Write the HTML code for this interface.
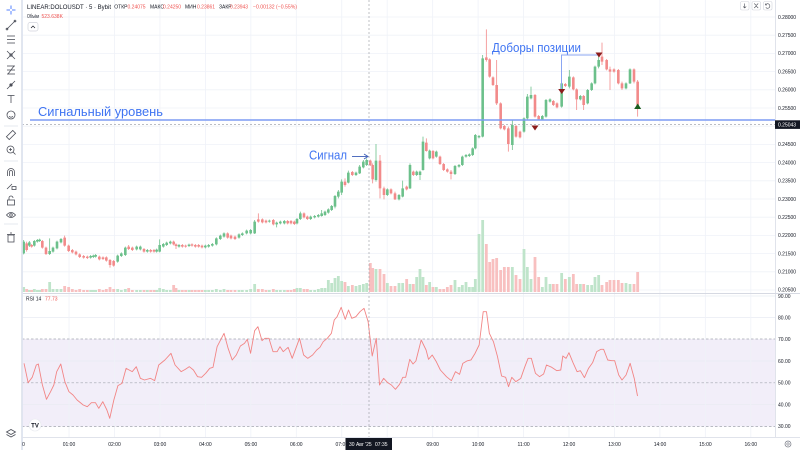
<!DOCTYPE html>
<html><head><meta charset="utf-8">
<style>
html,body{margin:0;padding:0;background:#fff;width:800px;height:450px;overflow:hidden}
svg{display:block;font-family:"Liberation Sans","Noto Sans CJK SC",sans-serif}
.wg{stroke:#6cc08b;stroke-width:2.4;fill:none}
.wr{stroke:#f28a8a;stroke-width:2.4;fill:none}
.bg{fill:#6cc08b}.br{fill:#f28a8a}
.vg{fill:#bfe4ca}.vr{fill:#f8c0c0}
</style></head>
<body>
<svg width="800" height="450" viewBox="0 0 800 450" xmlns="http://www.w3.org/2000/svg">
<rect width="800" height="450" fill="#fff"/>
<!-- RSI band -->
<rect x="22" y="339" width="753" height="87.5" fill="#f2eef9"/>
<!-- grid -->
<path d="M22 17H775M22 35.2H775M22 53.4H775M22 71.6H775M22 89.8H775M22 108H775M22 126.2H775M22 144.4H775M22 162.6H775M22 180.8H775M22 199H775M22 217.2H775M22 235.4H775M22 253.6H775M22 271.8H775M22 290H775" stroke="#eff2f8" stroke-width="0.8" fill="none"/>
<path d="M22 296H775M22 317.6H775M22 361H775M22 404.6H775" stroke="#e9ebf3" stroke-width="0.8" fill="none"/>
<path d="M69.05 0V437M114.5 0V437M159.95 0V437M205.4 0V437M250.85 0V437M296.3 0V437M341.75 0V437M387.2 0V437M432.65 0V437M478.1 0V437M523.55 0V437M569 0V437M614.45 0V437M659.9 0V437M705.35 0V437M750.8 0V437" stroke="#eff2f8" stroke-width="0.8" fill="none"/>
<!-- RSI dashed levels -->
<g stroke="#a3a6b0" stroke-width="0.7" stroke-dasharray="2.5,2">
<line x1="22" y1="339" x2="775" y2="339"/>
<line x1="22" y1="382.8" x2="775" y2="382.8"/>
<line x1="22" y1="426.5" x2="775" y2="426.5"/>
</g>

<!-- volumes -->
<g transform="translate(22,0) scale(0.33333,1)">
<path class="vg" d="M0.8 287h8.4v5h-8.4zM17.8 290h8.4v2h-8.4zM32.8 289h8.4v3h-8.4zM41.8 290h8.4v2h-8.4zM48.8 290h8.4v2h-8.4zM78.8 282h8.4v10h-8.4zM88.8 289h8.4v3h-8.4zM100.8 289h8.4v3h-8.4zM112.8 289h8.4v3h-8.4zM201.8 290h8.4v2h-8.4zM209.8 290h8.4v2h-8.4zM216.8 290h8.4v2h-8.4zM282.8 289h8.4v3h-8.4zM293.8 290h8.4v2h-8.4zM305.8 289h8.4v3h-8.4zM339.8 290h8.4v2h-8.4zM350.8 290h8.4v2h-8.4zM371.8 290h8.4v2h-8.4zM399.8 290h8.4v2h-8.4zM408.8 288h8.4v4h-8.4zM419.8 289h8.4v3h-8.4zM429.8 290h8.4v2h-8.4zM440.8 290h8.4v2h-8.4zM466.8 290h8.4v2h-8.4zM496.8 290h8.4v2h-8.4zM545.8 290h8.4v2h-8.4zM555.8 290h8.4v2h-8.4zM566.8 290h8.4v2h-8.4zM578.8 289h8.4v3h-8.4zM590.8 290h8.4v2h-8.4zM601.8 289h8.4v3h-8.4z"/>
<path class="vr" d="M9.8 289h8.4v3h-8.4zM24.8 290h8.4v2h-8.4zM56.8 289h8.4v3h-8.4zM67.8 289h8.4v3h-8.4zM123.8 286h8.4v6h-8.4zM135.8 287h8.4v5h-8.4zM146.8 289h8.4v3h-8.4zM157.8 290h8.4v2h-8.4zM168.8 289h8.4v3h-8.4zM180.8 290h8.4v2h-8.4zM191.8 290h8.4v2h-8.4zM227.8 289h8.4v3h-8.4zM238.8 290h8.4v2h-8.4zM248.8 289h8.4v3h-8.4zM259.8 287h8.4v5h-8.4zM270.8 289h8.4v3h-8.4zM315.8 288h8.4v4h-8.4zM326.8 290h8.4v2h-8.4zM361.8 290h8.4v2h-8.4zM381.8 290h8.4v2h-8.4zM391.8 290h8.4v2h-8.4zM450.8 285h8.4v7h-8.4zM457.8 288h8.4v4h-8.4zM476.8 290h8.4v2h-8.4zM486.8 290h8.4v2h-8.4zM505.8 290h8.4v2h-8.4zM515.8 290h8.4v2h-8.4zM525.8 290h8.4v2h-8.4zM535.8 290h8.4v2h-8.4zM612.8 290h8.4v2h-8.4zM622.8 290h8.4v2h-8.4z"/>
</g>
<g transform="translate(220,0) scale(0.33333,1)">
<path class="vg" d="M52.8 290h8.4v2h-8.4zM62.8 290h8.4v2h-8.4zM75.8 290h8.4v2h-8.4zM87.8 289h8.4v3h-8.4zM99.8 284h8.4v8h-8.4zM143.8 290h8.4v2h-8.4zM165.8 290h8.4v2h-8.4zM176.8 290h8.4v2h-8.4zM188.8 290h8.4v2h-8.4zM226.8 288h8.4v4h-8.4zM236.8 288h8.4v4h-8.4zM267.8 290h8.4v2h-8.4zM279.8 290h8.4v2h-8.4zM290.8 289h8.4v3h-8.4zM300.8 288h8.4v4h-8.4zM310.8 288h8.4v4h-8.4zM320.8 280h8.4v12h-8.4zM330.8 283h8.4v9h-8.4zM340.8 278h8.4v14h-8.4zM350.8 276h8.4v16h-8.4zM360.8 281h8.4v11h-8.4zM380.8 286h8.4v6h-8.4zM403.8 286h8.4v6h-8.4zM414.8 285h8.4v7h-8.4zM425.8 284h8.4v8h-8.4zM435.8 283h8.4v9h-8.4zM463.8 269h8.4v23h-8.4zM497.8 283h8.4v9h-8.4zM532.8 283h8.4v9h-8.4zM543.8 283h8.4v9h-8.4z"/>
<path class="vr" d="M40.8 290h8.4v2h-8.4zM110.8 289h8.4v3h-8.4zM122.8 289h8.4v3h-8.4zM133.8 290h8.4v2h-8.4zM155.8 289h8.4v3h-8.4zM198.8 290h8.4v2h-8.4zM208.8 290h8.4v2h-8.4zM218.8 289h8.4v3h-8.4zM247.8 289h8.4v3h-8.4zM257.8 289h8.4v3h-8.4zM370.8 282h8.4v10h-8.4zM392.8 285h8.4v7h-8.4zM446.8 263h8.4v29h-8.4zM453.8 268h8.4v24h-8.4zM475.8 269h8.4v23h-8.4zM487.8 274h8.4v18h-8.4zM508.8 286h8.4v6h-8.4zM520.8 286h8.4v6h-8.4zM555.8 279h8.4v13h-8.4z"/>
</g>
<g transform="translate(410,0) scale(0.33333,1)">
<path class="vg" d="M-4.2 284h8.4v8h-8.4zM15.8 277h8.4v15h-8.4zM25.8 269h8.4v23h-8.4zM34.8 277h8.4v15h-8.4zM54.8 282h8.4v10h-8.4zM74.8 287h8.4v5h-8.4zM130.8 280h8.4v12h-8.4zM142.8 287h8.4v5h-8.4zM152.8 285h8.4v7h-8.4zM163.8 282h8.4v10h-8.4zM173.8 287h8.4v5h-8.4zM183.8 287h8.4v5h-8.4zM191.8 279h8.4v13h-8.4zM202.8 234h8.4v58h-8.4zM213.8 220h8.4v72h-8.4zM302.8 267h8.4v25h-8.4zM337.8 249h8.4v43h-8.4zM347.8 267h8.4v25h-8.4zM358.8 279h8.4v13h-8.4zM392.8 287h8.4v5h-8.4zM403.8 277h8.4v15h-8.4zM415.8 284h8.4v8h-8.4zM450.8 273h8.4v19h-8.4zM473.8 277h8.4v15h-8.4zM506.8 284h8.4v8h-8.4zM528.8 285h8.4v7h-8.4zM540.8 285h8.4v7h-8.4zM550.8 277h8.4v15h-8.4zM561.8 275h8.4v17h-8.4zM643.8 283h8.4v9h-8.4zM655.8 284h8.4v8h-8.4z"/>
<path class="vr" d="M5.8 284h8.4v8h-8.4zM44.8 285h8.4v7h-8.4zM64.8 287h8.4v5h-8.4zM85.8 289h8.4v3h-8.4zM96.8 289h8.4v3h-8.4zM107.8 287h8.4v5h-8.4zM118.8 285h8.4v7h-8.4zM224.8 244h8.4v48h-8.4zM234.8 262h8.4v30h-8.4zM244.8 259h8.4v33h-8.4zM255.8 258h8.4v34h-8.4zM267.8 270h8.4v22h-8.4zM278.8 267h8.4v25h-8.4zM290.8 267h8.4v25h-8.4zM313.8 275h8.4v17h-8.4zM325.8 279h8.4v13h-8.4zM370.8 257h8.4v35h-8.4zM381.8 277h8.4v15h-8.4zM425.8 284h8.4v8h-8.4zM436.8 284h8.4v8h-8.4zM461.8 279h8.4v13h-8.4zM485.8 274h8.4v18h-8.4zM495.8 284h8.4v8h-8.4zM516.8 284h8.4v8h-8.4zM571.8 285h8.4v7h-8.4zM585.8 282h8.4v10h-8.4zM595.8 280h8.4v12h-8.4zM607.8 280h8.4v12h-8.4zM620.8 280h8.4v12h-8.4zM631.8 283h8.4v9h-8.4zM667.8 284h8.4v8h-8.4zM678.8 272h8.4v20h-8.4z"/>
</g>

<!-- candles set 1 -->
<g transform="translate(22,195) scale(0.33333)">
<path class="wg" d="M5 135V178M22 138V156M37 135V155M46 132V143M53 131V141M83 130V180M93 155V173M105 137V163M117 129V145M206 180V191M214 179V189M221 177V188M287 179V203M298 172V186M310 155V183M344 152V166M355 152V166M376 162V173M404 161V173M413 133V172M424 144V158M434 140V153M445 137V148M471 147V158M501 146V156M550 149V160M560 147V158M571 144V155M583 127V151M595 119V135M606 112V128"/>
<path class="wr" d="M14 140V170M29 147V158M61 135V161M72 155V180M128 122V155M140 149V171M151 162V175M162 167V181M173 175V189M185 180V191M196 182V192M232 182V196M243 184V195M253 184V200M264 192V218M275 195V215M320 150V165M331 155V168M366 159V173M386 162V173M396 162V173M455 137V151M462 145V162M481 147V158M491 149V158M510 145V155M520 147V158M530 147V158M540 149V160M617 112V131M627 119V133"/>
<path class="bg" d="M1.1 140h7.8v35h-7.8zM18.1 142h7.8v10h-7.8zM33.1 138h7.8v14h-7.8zM42.1 135h7.8v5h-7.8zM49.1 134h7.8v4h-7.8zM79.1 168h7.8v9h-7.8zM89.1 158h7.8v12h-7.8zM101.1 140h7.8v20h-7.8zM113.1 132h7.8v10h-7.8zM202.1 183h7.8v5h-7.8zM210.1 182h7.8v4h-7.8zM217.1 180h7.8v5h-7.8zM283.1 182h7.8v18h-7.8zM294.1 175h7.8v8h-7.8zM306.1 158h7.8v22h-7.8zM340.1 155h7.8v8h-7.8zM351.1 155h7.8v8h-7.8zM372.1 165h7.8v5h-7.8zM400.1 164h7.8v6h-7.8zM409.1 150h7.8v20h-7.8zM420.1 147h7.8v8h-7.8zM430.1 143h7.8v7h-7.8zM441.1 140h7.8v5h-7.8zM467.1 150h7.8v5h-7.8zM497.1 149h7.8v4h-7.8zM546.1 152h7.8v5h-7.8zM556.1 150h7.8v5h-7.8zM567.1 147h7.8v5h-7.8zM579.1 130h7.8v18h-7.8zM591.1 122h7.8v10h-7.8zM602.1 115h7.8v10h-7.8z"/>
<path class="br" d="M10.1 145h7.8v20h-7.8zM25.1 150h7.8v5h-7.8zM57.1 138h7.8v20h-7.8zM68.1 158h7.8v19h-7.8zM124.1 128h7.8v24h-7.8zM136.1 152h7.8v16h-7.8zM147.1 165h7.8v7h-7.8zM158.1 170h7.8v8h-7.8zM169.1 178h7.8v8h-7.8zM181.1 183h7.8v5h-7.8zM192.1 185h7.8v4h-7.8zM228.1 185h7.8v8h-7.8zM239.1 187h7.8v5h-7.8zM249.1 187h7.8v10h-7.8zM260.1 195h7.8v15h-7.8zM271.1 198h7.8v14h-7.8zM316.1 155h7.8v7h-7.8zM327.1 158h7.8v7h-7.8zM362.1 162h7.8v8h-7.8zM382.1 165h7.8v5h-7.8zM392.1 165h7.8v5h-7.8zM451.1 140h7.8v8h-7.8zM458.1 148h7.8v5h-7.8zM477.1 150h7.8v5h-7.8zM487.1 152h7.8v3h-7.8zM506.1 148h7.8v4h-7.8zM516.1 150h7.8v5h-7.8zM526.1 150h7.8v5h-7.8zM536.1 152h7.8v5h-7.8zM613.1 115h7.8v13h-7.8zM623.1 122h7.8v8h-7.8z"/>
</g>
<!-- candles set 2 -->
<g transform="translate(220,140) scale(0.33333)">
<path class="wg" d="M57 280V296M67 277V288M80 269V283M92 267V283M104 240V282M148 239V248M170 245V262M181 242V253M193 240V253M231 234V253M241 215V240M272 227V240M284 225V235M295 222V233M305 210V230M315 212V228M325 205V221M335 195V213M345 165V205M355 150V175M365 118V165M385 92V130M408 95V108M419 75V102M430 60V85M440 55V78M468 12V125M502 145V168M537 162V181M548 122V172"/>
<path class="wr" d="M45 287V300M115 220V248M127 235V250M138 239V250M160 237V256M203 240V253M213 240V253M223 242V255M252 217V235M262 227V240M375 115V140M397 93V108M451 59V78M458 70V130M480 45V175M492 140V178M513 145V163M525 155V180M560 137V151"/>
<path class="bg" d="M53.1 283h7.8v10h-7.8zM63.1 280h7.8v5h-7.8zM76.1 272h7.8v8h-7.8zM88.1 270h7.8v10h-7.8zM100.1 245h7.8v35h-7.8zM144.1 242h7.8v3h-7.8zM166.1 248h7.8v5h-7.8zM177.1 245h7.8v5h-7.8zM189.1 243h7.8v7h-7.8zM227.1 237h7.8v13h-7.8zM237.1 220h7.8v17h-7.8zM268.1 230h7.8v7h-7.8zM280.1 228h7.8v4h-7.8zM291.1 225h7.8v5h-7.8zM301.1 220h7.8v8h-7.8zM311.1 215h7.8v10h-7.8zM321.1 208h7.8v10h-7.8zM331.1 198h7.8v12h-7.8zM341.1 168h7.8v32h-7.8zM351.1 155h7.8v15h-7.8zM361.1 125h7.8v33h-7.8zM381.1 98h7.8v30h-7.8zM404.1 98h7.8v7h-7.8zM415.1 80h7.8v20h-7.8zM426.1 65h7.8v17h-7.8zM436.1 60h7.8v15h-7.8zM464.1 62h7.8v58h-7.8zM498.1 148h7.8v17h-7.8zM533.1 165h7.8v13h-7.8zM544.1 145h7.8v25h-7.8z"/>
<path class="br" d="M41.1 290h7.8v7h-7.8zM111.1 238h7.8v7h-7.8zM123.1 238h7.8v9h-7.8zM134.1 242h7.8v5h-7.8zM156.1 240h7.8v13h-7.8zM199.1 243h7.8v7h-7.8zM209.1 243h7.8v7h-7.8zM219.1 245h7.8v7h-7.8zM248.1 220h7.8v12h-7.8zM258.1 230h7.8v7h-7.8zM371.1 125h7.8v10h-7.8zM393.1 96h7.8v9h-7.8zM447.1 62h7.8v13h-7.8zM454.1 75h7.8v43h-7.8zM476.1 62h7.8v83h-7.8zM488.1 145h7.8v20h-7.8zM509.1 148h7.8v12h-7.8zM521.1 160h7.8v18h-7.8zM556.1 140h7.8v8h-7.8z"/>
</g>
<!-- candles set 3 -->
<g transform="translate(410,20) scale(0.33333)">
<path class="wg" d="M0 430V507M20 452V468M30 452V480M39 350V452M59 389V418M79 392V413M135 435V465M147 432V443M157 407V438M168 402V413M178 400V411M188 382V408M196 342V388M207 345V355M218 105V352M307 300V390M342 292V338M352 222V300M363 200V238M397 285V301M408 237V293M420 235V248M455 187V263M478 150V205M511 225V241M533 207V253M545 187V213M555 137V193M566 105V145M648 187V208M660 145V192"/>
<path class="wr" d="M10 452V468M49 355V395M69 390V418M90 407V435M101 429V453M112 445V458M123 450V478M229 28V125M239 115V173M249 169V198M260 120V255M272 247V328M283 315V331M295 320V395M318 315V353M330 332V355M375 222V293M386 285V301M430 240V258M441 247V265M466 189V201M490 169V211M500 205V270M521 225V270M576 68V135M590 117V151M600 140V210M612 145V158M625 147V193M636 185V210M672 145V190M683 180V290"/>
<path class="bg" d="M-3.9 435h7.8v70h-7.8zM16.1 455h7.8v10h-7.8zM26.1 455h7.8v10h-7.8zM35.1 365h7.8v85h-7.8zM55.1 392h7.8v23h-7.8zM75.1 395h7.8v15h-7.8zM131.1 438h7.8v24h-7.8zM143.1 435h7.8v5h-7.8zM153.1 410h7.8v25h-7.8zM164.1 405h7.8v5h-7.8zM174.1 403h7.8v5h-7.8zM184.1 385h7.8v20h-7.8zM192.1 345h7.8v40h-7.8zM203.1 348h7.8v4h-7.8zM214.1 115h7.8v235h-7.8zM303.1 315h7.8v60h-7.8zM338.1 295h7.8v40h-7.8zM348.1 230h7.8v65h-7.8zM359.1 225h7.8v10h-7.8zM393.1 288h7.8v10h-7.8zM404.1 240h7.8v50h-7.8zM416.1 238h7.8v7h-7.8zM451.1 190h7.8v70h-7.8zM474.1 170h7.8v30h-7.8zM507.1 228h7.8v10h-7.8zM529.1 210h7.8v40h-7.8zM541.1 190h7.8v20h-7.8zM551.1 140h7.8v50h-7.8zM562.1 120h7.8v20h-7.8zM644.1 190h7.8v15h-7.8zM656.1 148h7.8v42h-7.8z"/>
<path class="br" d="M6.1 455h7.8v10h-7.8zM45.1 368h7.8v25h-7.8zM65.1 393h7.8v22h-7.8zM86.1 410h7.8v22h-7.8zM97.1 432h7.8v18h-7.8zM108.1 448h7.8v7h-7.8zM119.1 455h7.8v7h-7.8zM225.1 112h7.8v8h-7.8zM235.1 118h7.8v52h-7.8zM245.1 172h7.8v23h-7.8zM256.1 195h7.8v55h-7.8zM268.1 250h7.8v75h-7.8zM279.1 318h7.8v10h-7.8zM291.1 325h7.8v47h-7.8zM314.1 318h7.8v32h-7.8zM326.1 335h7.8v17h-7.8zM371.1 225h7.8v65h-7.8zM382.1 288h7.8v10h-7.8zM426.1 243h7.8v12h-7.8zM437.1 250h7.8v12h-7.8zM462.1 192h7.8v6h-7.8zM486.1 172h7.8v36h-7.8zM496.1 208h7.8v30h-7.8zM517.1 228h7.8v27h-7.8zM572.1 110h7.8v15h-7.8zM586.1 120h7.8v28h-7.8zM596.1 148h7.8v7h-7.8zM608.1 148h7.8v7h-7.8zM621.1 150h7.8v40h-7.8zM632.1 190h7.8v15h-7.8zM668.1 148h7.8v37h-7.8zM679.1 185h7.8v73h-7.8z"/>
</g>

<!-- RSI line -->
<g transform="translate(22,290) scale(0.40816,0.33333)">
<polyline fill="none" stroke="#f28585" stroke-width="0.9" stroke-linejoin="round" vector-effect="non-scaling-stroke" points="5,220 15,278 25,262 35,225 40,222 50,285 60,328 70,305 78,285 85,245 95,222 105,275 115,305 125,315 135,330 150,345 160,350 170,338 180,338 188,355 198,335 208,360 215,385 225,330 235,287 245,280 255,235 270,245 280,230 290,265 300,270 315,265 325,272 335,225 350,210 365,190 375,225 390,245 400,238 410,230 420,240 430,260 440,262 450,250 460,235 468,232 478,170 495,130 505,175 515,210 525,195 535,168 545,160 552,148 560,190 570,122 578,110 588,152 595,145 605,145 615,185 625,185 632,170 640,185 652,172 662,205 680,145 690,195 700,205 712,195 722,180 730,172 738,155 748,145 758,130 765,90 772,80 782,52 792,88 800,60 808,85 818,80 828,65 838,55 848,95 858,198 868,145 876,285 886,265 896,278 905,285 915,298 925,283 933,262 940,262 950,208 958,222 965,213 978,150 990,180 996,208 1005,195 1015,215 1025,240 1040,260 1052,272 1062,245 1072,253 1080,220 1090,213 1100,210 1110,190 1120,165 1130,65 1138,65 1145,130 1155,155 1165,200 1175,258 1185,262 1192,290 1200,262 1210,275 1222,265 1232,230 1240,205 1248,205 1258,250 1268,260 1278,252 1285,225 1298,232 1310,242 1320,240 1325,198 1333,205 1340,188 1350,218 1360,245 1368,242 1378,263 1388,235 1398,218 1408,185 1418,178 1425,178 1435,210 1445,212 1452,212 1462,255 1470,270 1480,255 1490,220 1500,265 1508,318"/>
</g>

<!-- crosshair -->
<line x1="369" y1="0" x2="369" y2="437" stroke="#9598a1" stroke-width="0.6" stroke-dasharray="2,2"/>
<line x1="22" y1="124.6" x2="775" y2="124.6" stroke="#9598a1" stroke-width="0.6" stroke-dasharray="2,2"/>

<!-- signal level & annotations -->
<line x1="30" y1="120" x2="775" y2="120" stroke="#7d9cf3" stroke-width="1.6"/>
<text x="38" y="116" font-size="12.5" fill="#3f74f2" textLength="125" lengthAdjust="spacingAndGlyphs">Сигнальный уровень</text>
<text x="309" y="159.5" font-size="12.5" fill="#3f74f2" textLength="38" lengthAdjust="spacingAndGlyphs">Сигнал</text>
<line x1="352" y1="156.5" x2="367.5" y2="156.5" stroke="#3f5fb8" stroke-width="0.9"/>
<polyline points="364,154 368,156.5 364,159" fill="none" stroke="#3f5fb8" stroke-width="0.9"/>
<text x="492" y="52" font-size="12.5" fill="#3f74f2" textLength="89" lengthAdjust="spacingAndGlyphs">Доборы позиции</text>
<polyline points="561.5,91 561.5,55 599,55" fill="none" stroke="#8aa6f2" stroke-width="1"/>
<polygon points="531.5,125.5 538.5,125.5 535,130.5" fill="#8b1c1c"/>
<polygon points="558.2,89 565.2,89 561.7,94" fill="#8b1c1c"/>
<polygon points="595.5,52.5 602.5,52.5 599,57.5" fill="#8b1c1c"/>
<polygon points="634.2,109 641.2,109 637.7,103.5" fill="#1b5e20"/>

<!-- axes borders -->
<line x1="775.5" y1="0" x2="775.5" y2="437" stroke="#e0e3eb" stroke-width="1"/>
<line x1="22" y1="293.5" x2="800" y2="293.5" stroke="#d6d9e2" stroke-width="1"/>
<line x1="22" y1="437.5" x2="800" y2="437.5" stroke="#e0e3eb" stroke-width="1"/>
<line x1="22.2" y1="0" x2="22.2" y2="450" stroke="#dde3f0" stroke-width="1.4"/>

<!-- price axis labels -->
<g font-size="5" fill="#131722">
<text x="778" y="18.8">0.28000</text>
<text x="778" y="37">0.27500</text>
<text x="778" y="55.2">0.27000</text>
<text x="778" y="73.4">0.26500</text>
<text x="778" y="91.6">0.26000</text>
<text x="778" y="109.8">0.25500</text>
<text x="778" y="146.2">0.24500</text>
<text x="778" y="164.4">0.24000</text>
<text x="778" y="182.6">0.23500</text>
<text x="778" y="200.8">0.23000</text>
<text x="778" y="219">0.22500</text>
<text x="778" y="237.2">0.22000</text>
<text x="778" y="255.4">0.21500</text>
<text x="778" y="273.6">0.21000</text>
<text x="778" y="291.5">0.20500</text>
<text x="778" y="298">90.00</text>
<text x="778" y="319.5">80.00</text>
<text x="778" y="341">70.00</text>
<text x="778" y="362.8">60.00</text>
<text x="778" y="384.6">50.00</text>
<text x="778" y="406.4">40.00</text>
<text x="778" y="428.2">30.00</text>
</g>
<rect x="775" y="120.3" width="25" height="8.6" fill="#131722"/>
<text x="778" y="126.5" font-size="5" fill="#fff">0.25043</text>

<!-- time axis -->
<g font-size="5" fill="#131722" text-anchor="middle">
<text x="23.5" y="446">0</text>
<text x="69" y="446">01:00</text>
<text x="114.5" y="446">02:00</text>
<text x="160" y="446">03:00</text>
<text x="205.4" y="446">04:00</text>
<text x="250.9" y="446">05:00</text>
<text x="296.3" y="446">06:00</text>
<text x="341.8" y="446">07:00</text>
<text x="432.7" y="446">09:00</text>
<text x="478.1" y="446">10:00</text>
<text x="523.6" y="446">11:00</text>
<text x="569" y="446">12:00</text>
<text x="614.5" y="446">13:00</text>
<text x="660" y="446">14:00</text>
<text x="705.4" y="446">15:00</text>
<text x="750.8" y="446">16:00</text>
</g>
<rect x="345.5" y="438" width="46.5" height="12" fill="#131722"/>
<text x="349" y="446" font-size="5" fill="#fff">30 Авг '25</text>
<text x="375" y="446" font-size="5" fill="#fff">07:35</text>
<circle cx="788" cy="444" r="3" fill="none" stroke="#787b86" stroke-width="0.7"/>
<circle cx="788" cy="444" r="1.2" fill="none" stroke="#787b86" stroke-width="0.6"/>

<!-- header -->
<text x="27" y="9" font-size="6" fill="#131722" textLength="84" lengthAdjust="spacingAndGlyphs">LINEAR:DOLOUSDT · 5 · Bybit</text>
<g font-size="5">
<text x="114.3" y="8.7" fill="#131722">ОТКР</text>
<text x="127.5" y="8.7" fill="#ef5350">0.24075</text>
<text x="150" y="8.7" fill="#131722">МАКС</text>
<text x="163" y="8.7" fill="#ef5350">0.24250</text>
<text x="185" y="8.7" fill="#131722">МИН</text>
<text x="197" y="8.7" fill="#ef5350">0.23861</text>
<text x="219" y="8.7" fill="#131722">ЗАКР</text>
<text x="230" y="8.7" fill="#ef5350">0.23943</text>
<text x="253" y="8.7" fill="#ef5350" textLength="44" lengthAdjust="spacingAndGlyphs">−0.00132 (−0.55%)</text>
<text x="27" y="18" fill="#131722" textLength="12" lengthAdjust="spacingAndGlyphs">Объём</text>
<text x="41.5" y="18" fill="#ef5350">523.638K</text>
<text x="26" y="300.5" fill="#131722">RSI 14</text>
<text x="45" y="300.5" fill="#ef5350">77.73</text>
</g>
<rect x="28" y="22.5" width="10" height="8.5" rx="2" fill="#fff" stroke="#d1d4dc" stroke-width="0.7"/>
<polyline points="31,28 33,26 35,28" fill="none" stroke="#131722" stroke-width="0.7"/>

<!-- top right buttons -->
<g fill="#fff" stroke="#d1d4dc" stroke-width="0.6">
<rect x="740.5" y="1.5" width="8.5" height="8.5" rx="1.5"/>
<rect x="752" y="1.5" width="8.5" height="8.5" rx="1.5"/>
<rect x="763.5" y="1.5" width="8.5" height="8.5" rx="1.5"/>
</g>
<g fill="none" stroke="#4c4f59" stroke-width="0.6">
<line x1="744.7" y1="3.5" x2="744.7" y2="8"/><polyline points="743.2,6.5 744.7,8 746.2,6.5"/>
<polyline points="754.2,3.5 756.2,5.5 758.2,3.5"/><polyline points="754.2,8 756.2,6 758.2,8"/>
<path d="M765.5,5 a2.3,2.3 0 1 1 0.3,2.5"/><polyline points="765.5,3.5 765.5,5 767,5"/>
</g>

<!-- TV logo -->
<circle cx="35" cy="425" r="6" fill="#fff" stroke="#e6e8ee" stroke-width="0.6"/>
<text x="35" y="427.3" font-size="6" font-weight="bold" fill="#131722" text-anchor="middle">TV</text>

<!-- left toolbar -->
<rect x="0" y="0" width="21.5" height="450" fill="#fff"/>
<line x1="21.6" y1="0" x2="21.6" y2="450" stroke="#dfe3ec" stroke-width="1"/>
<g fill="none" stroke="#2962ff" stroke-width="0.8">
<line x1="6.5" y1="10" x2="10" y2="10"/><line x1="12" y1="10" x2="15.5" y2="10"/>
<line x1="11" y1="5.5" x2="11" y2="9"/><line x1="11" y1="11" x2="11" y2="14.5"/>
</g>
<g fill="none" stroke="#4c4f59" stroke-width="0.8">
<line x1="7" y1="29" x2="15" y2="21"/><circle cx="7" cy="29" r="0.9"/><circle cx="15" cy="21" r="0.9"/>
<line x1="7" y1="36" x2="15" y2="36"/><line x1="7" y1="39.5" x2="15" y2="39.5"/><line x1="7" y1="43" x2="15" y2="43"/>
<line x1="7" y1="51" x2="15" y2="59"/><line x1="15" y1="51" x2="7" y2="59"/><circle cx="11" cy="55" r="1.2"/>
<line x1="7" y1="66" x2="15" y2="66"/><line x1="7" y1="70" x2="15" y2="70"/><line x1="7" y1="74" x2="15" y2="74"/><line x1="8" y1="74" x2="14" y2="66"/>
<line x1="7" y1="89" x2="15" y2="81"/><circle cx="11" cy="85" r="1.2" fill="#4c4f59"/>
<line x1="7.5" y1="95.5" x2="14.5" y2="95.5"/><line x1="11" y1="95.5" x2="11" y2="103"/>
<circle cx="11" cy="115" r="4"/><path d="M9,116.3 q2,1.8 4,0"/>
<line x1="4" y1="126" x2="18" y2="126" stroke="#e0e3eb"/>
<rect x="6.5" y="133" width="9" height="4" transform="rotate(-45 11 135)"/>
<circle cx="10.5" cy="149.5" r="3.5"/><line x1="13" y1="152" x2="15.5" y2="154.5"/><line x1="9" y1="149.5" x2="12" y2="149.5"/><line x1="10.5" y1="148" x2="10.5" y2="151"/>
<line x1="4" y1="161" x2="18" y2="161" stroke="#e0e3eb"/>
<path d="M7.5,176 v-4 a3.5,3.5 0 0 1 7,0 v4"/><path d="M9.5,176 v-4 a1.5,1.5 0 0 1 3,0 v4"/>
<line x1="7" y1="189" x2="12" y2="184"/><rect x="12" y="186.5" width="4" height="3"/>
<rect x="7.5" y="200" width="7" height="5"/><path d="M9,200 v-2 a2,2 0 0 1 4,0"/>
<path d="M6.5,215 q4.5,-5 9,0 q-4.5,5 -9,0z"/><circle cx="11" cy="215" r="1.3"/>
<line x1="4" y1="224" x2="18" y2="224" stroke="#e0e3eb"/>
<rect x="8" y="235" width="6" height="7"/><line x1="7" y1="234.5" x2="15" y2="234.5"/><line x1="10" y1="233" x2="12" y2="233"/>
<path d="M6.5,432 l4.5,-2.5 l4.5,2.5 l-4.5,2.5z"/><path d="M6.5,434.5 l4.5,2.5 l4.5,-2.5"/>
</g>
</svg>
</body></html>
